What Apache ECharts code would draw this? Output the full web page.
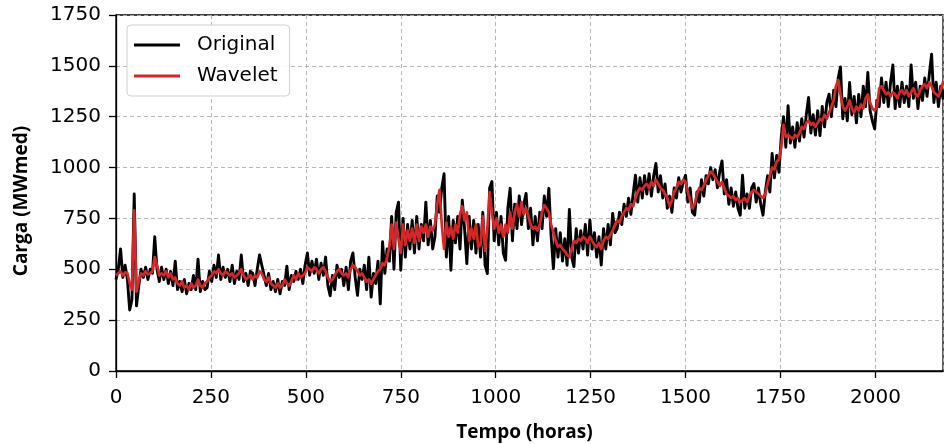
<!DOCTYPE html>
<html>
<head>
<meta charset="utf-8">
<script src="https://cdn.jsdelivr.net/npm/echarts@6/dist/echarts.min.js"></script>
<style>
  html, body { margin: 0; padding: 0; background: #fff; }
  #chart { width: 944px; height: 444px; }
</style>
</head>
<body>
<div id="chart"></div>
<script>
// Hourly load series, sampled every 6 hours (hour = index * STEP_HOURS)
const STEP_HOURS = 6;
const X_MAX_HOURS = 2178;

const yTicks = [0, 250, 500, 750, 1000, 1250, 1500, 1750];
const xTicks = [0, 250, 500, 750, 1000, 1250, 1500, 1750, 2000];

const seriesNames = ['Original', 'Wavelet'];

// Measured load (MWmed)
const original = [
  450, 500, 600, 460, 520, 450, 300, 350, 870, 320, 420, 500, 460, 510, 450, 500, 480, 660, 500, 440,
  510, 450, 500, 430, 490, 420, 540, 400, 440, 390, 450, 380, 430, 400, 470, 400, 550, 390, 440, 400,
  410, 490, 440, 520, 460, 570, 450, 510, 460, 500, 440, 520, 430, 490, 450, 570, 440, 480, 420, 490,
  480, 420, 500, 570, 520, 470, 420, 480, 400, 440, 390, 450, 380, 440, 420, 515, 400, 470, 440, 490,
  450, 500, 430, 520, 580, 470, 540, 480, 550, 450, 530, 470, 560, 420, 370, 470, 400, 520, 460, 500,
  420, 510, 400, 540, 580, 460, 372, 500, 450, 520, 400, 560, 363, 480, 430, 540, 330, 635, 480, 600,
  540, 760, 500, 780, 830, 495, 750, 560, 720, 600, 740, 580, 760, 600, 720, 640, 830, 620, 740, 600,
  660, 860, 780, 900, 970, 560, 760, 495, 740, 630, 760, 600, 840, 700, 528, 760, 600, 740, 580, 720,
  560, 780, 520, 479, 900, 931, 640, 780, 620, 760, 580, 544, 800, 898, 640, 820, 700, 860, 720, 820,
  873, 700, 800, 620, 760, 640, 780, 700, 860, 760, 898, 660, 503, 700, 560, 680, 540, 650, 520, 794,
  560, 513, 700, 580, 690, 600, 720, 570, 742, 600, 680, 560, 660, 521, 700, 600, 720, 620, 775, 680,
  700, 780, 720, 820, 760, 850, 770, 870, 962, 830, 950, 850, 960, 870, 970, 860, 960, 1020, 880, 960,
  850, 920, 800, 860, 780, 900, 850, 950, 880, 930, 962, 830, 900, 780, 766, 880, 830, 940, 860, 960,
  920, 1000, 940, 990, 900, 980, 1033, 870, 940, 820, 900, 810, 880, 800, 766, 962, 800, 870, 800, 900,
  922, 830, 900, 820, 766, 880, 960, 880, 1069, 950, 1060, 977, 1150, 1250, 1100, 1304, 1120, 1200, 1100, 1220,
  1130, 1240, 1150, 1260, 1345, 1170, 1260, 1160, 1280, 1157, 1300, 1200, 1320, 1361, 1250, 1380, 1300, 1440, 1495, 1240,
  1340, 1230, 1418, 1260, 1350, 1220, 1360, 1250, 1400, 1300, 1467, 1280, 1230, 1190, 1330, 1300, 1440, 1320, 1420, 1300,
  1420, 1505, 1290, 1400, 1300, 1420, 1320, 1400, 1300, 1505, 1340, 1420, 1290, 1400, 1330, 1440, 1350, 1460, 1557, 1320,
  1420, 1300, 1400, 1340, 1390
];

// Wavelet-filtered load (MWmed)
const wavelet = [
  470, 480, 490, 470, 485, 480, 430, 400, 790, 390, 440, 480, 470, 490, 475, 480, 490, 560, 520, 470,
  480, 470, 490, 460, 480, 450, 460, 430, 420, 440, 410, 420, 400, 430, 410, 420, 450, 420, 410, 430,
  440, 460, 470, 490, 480, 500, 480, 470, 490, 480, 470, 480, 460, 470, 480, 500, 470, 450, 460, 470,
  450, 470, 460, 490, 480, 450, 440, 460, 430, 420, 410, 430, 410, 420, 450, 430, 420, 440, 470, 450,
  480, 460, 470, 480, 510, 500, 490, 510, 500, 480, 500, 510, 490, 460, 440, 450, 470, 490, 500, 480,
  470, 480, 460, 500, 520, 510, 490, 470, 480, 460, 440, 450, 430, 450, 470, 490, 500, 530, 520, 560,
  610, 720, 600, 730, 650, 580, 720, 620, 690, 640, 700, 630, 720, 640, 710, 680, 720, 660, 710, 690,
  720, 820, 890, 720, 600, 730, 660, 710, 650, 720, 680, 770, 810, 740, 780, 640, 700, 650, 720, 610,
  620, 760, 590, 700, 880, 780, 700, 750, 680, 720, 660, 720, 680, 780, 700, 780, 820, 760, 830, 770,
  800, 760, 720, 700, 710, 690, 720, 780, 815, 800, 780, 720, 680, 640, 610, 620, 600, 590, 570, 560,
  600, 640, 630, 650, 640, 660, 650, 630, 660, 640, 620, 610, 630, 600, 640, 660, 650, 670, 690, 720,
  740, 730, 760, 780, 800, 790, 820, 810, 850, 880, 900, 890, 910, 920, 900, 930, 910, 940, 920, 900,
  890, 870, 850, 810, 840, 880, 900, 930, 920, 940, 930, 880, 840, 800, 820, 870, 900, 890, 910, 940,
  960, 980, 970, 950, 930, 910, 930, 900, 870, 860, 850, 860, 840, 850, 830, 840, 850, 830, 860, 880,
  890, 880, 870, 860, 850, 870, 920, 960, 1000, 990, 1030, 1040, 1100, 1210, 1150, 1160, 1150, 1140, 1160, 1150,
  1170, 1200, 1190, 1220, 1230, 1210, 1220, 1200, 1220, 1240, 1230, 1260, 1240, 1270, 1300, 1330, 1400, 1430, 1360, 1300,
  1280, 1300, 1330, 1290, 1270, 1300, 1280, 1310, 1290, 1340, 1360, 1320, 1290, 1280, 1300, 1390, 1400, 1380, 1360, 1370,
  1350, 1370, 1360, 1340, 1370, 1380, 1360, 1380, 1350, 1370, 1390, 1360, 1350, 1380, 1400, 1410, 1390, 1420, 1400, 1370,
  1360, 1350, 1380, 1420, 1410
];

const toPairs = arr => arr.map((v, i) => [i * STEP_HOURS, v]);

const chart = echarts.init(document.getElementById('chart'), null, { renderer: 'canvas' });

const tickFont = { fontFamily: 'DejaVu Sans', fontSize: 20, color: '#000' };
const nameFont = { fontFamily: 'Open Sans', fontWeight: 'bold', fontSize: 19, color: '#000' };
const gridLine = { show: true, lineStyle: { color: '#b0b0b0', type: [4, 3], width: 0.9 } };
const axisLineStyle = { color: '#000', width: 1.3 };

chart.setOption({
  animation: false,
  backgroundColor: '#fff',
  grid: {
    left: 116, right: 1, top: 15, bottom: 73,
    outerBoundsMode: 'none', containLabel: false,
    show: true, borderColor: '#000', borderWidth: 1.3, backgroundColor: 'transparent'
  },
  legend: {
    data: seriesNames,
    orient: 'vertical',
    left: 127, top: 25,
    padding: [10, 12, 10, 7],
    itemGap: 11,
    itemWidth: 46, itemHeight: 3,
    icon: 'rect',
    backgroundColor: 'rgba(255,255,255,0.85)',
    borderColor: '#d0d0d0', borderWidth: 1, borderRadius: 4,
    textStyle: { fontFamily: 'DejaVu Sans', fontSize: 20, color: '#000', padding: [0, 0, 0, 12] }
  },
  xAxis: {
    type: 'value',
    min: xTicks[0], max: X_MAX_HOURS, interval: xTicks[1] - xTicks[0],
    name: 'Tempo (horas)', nameLocation: 'middle', nameGap: 52,
    nameTextStyle: Object.assign({ padding: [0, 10, 0, 0] }, nameFont),
    axisLine: { show: true, onZero: false, lineStyle: axisLineStyle },
    axisTick: { show: true, length: 7, lineStyle: axisLineStyle },
    axisLabel: Object.assign({ margin: 17, showMaxLabel: false, showMinLabel: true,
      formatter: v => (xTicks.includes(v) ? String(v) : '') }, tickFont),
    splitLine: gridLine
  },
  yAxis: {
    type: 'value',
    min: yTicks[0], max: yTicks[yTicks.length - 1], interval: yTicks[1] - yTicks[0],
    name: 'Carga (MWmed)', nameLocation: 'middle', nameGap: 85, nameRotate: 90,
    nameTextStyle: Object.assign({ padding: [0, 16, 0, 0] }, nameFont),
    axisLine: { show: true, lineStyle: axisLineStyle },
    axisTick: { show: true, length: 7, lineStyle: axisLineStyle },
    axisLabel: Object.assign({ margin: 15, padding: [7, 0, 0, 0], formatter: v => String(v) }, tickFont),
    splitLine: gridLine
  },
  series: [
    {
      name: seriesNames[0], type: 'line', data: toPairs(original),
      showSymbol: false, symbol: 'none', clip: true,
      lineStyle: { color: '#000', width: 2.9, join: 'round' },
      itemStyle: { color: '#000' }, z: 2
    },
    {
      name: seriesNames[1], type: 'line', data: toPairs(wavelet),
      showSymbol: false, symbol: 'none', clip: true,
      lineStyle: { color: '#d62728', width: 2.7, join: 'round' },
      itemStyle: { color: '#d62728' }, z: 3
    }
  ]
});
</script>
</body>
</html>
